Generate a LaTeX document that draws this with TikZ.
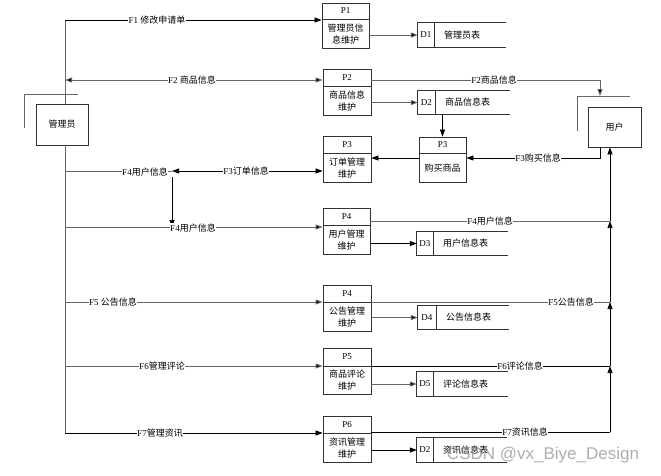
\documentclass[tikz,border=0pt]{standalone}
\usepackage{fontspec}
\setmainfont{Liberation Serif}
\newfontfamily\cjk{Noto Sans CJK SC}
\newfontfamily\wmfont{Liberation Sans}
\usetikzlibrary{arrows.meta,fit,calc}
\newcommand{\zh}[1]{{\cjk #1}}
\tikzset{
 ln/.style={draw=black, line width=0.7pt},
 gl/.style={draw=black!60, line width=0.9pt},
 arr/.style={-{Triangle[length=7pt,width=5pt,fill=black]}},
 arrb/.style={{Triangle[length=7pt,width=5pt,fill=black]}-{Triangle[length=7pt,width=5pt,fill=black]}},
 lbl/.style={fill=white, inner sep=0.6pt, font=\fontsize{9}{11}\selectfont},
 box/.style={draw=black!80, line width=0.8pt, inner sep=0pt},
 txt/.style={font=\fontsize{9}{12}\selectfont, inner sep=0pt, align=center},
 ztxt/.style={font=\cjk\fontsize{9}{12}\selectfont, inner sep=0pt, align=center},
}
\newcommand{\procbox}[8]{%
 \node[box, fit={(#2,#3) (#4,#5)}] (#1) {};
 \draw[box] (#1.west |- 0,#6) -- (#1.east |- 0,#6);
 \node[txt] (#1t) at ($(#1.north)!0.5!(#1.north |- 0,#6)$) {#7};
 \node[ztxt] (#1b) at ($(#1.south)!0.5!(#1.south |- 0,#6)$) {#8};
}
\newcommand{\storebox}[8]{%
 \node[inner sep=0pt, fit={(#2,#3) (#4,#5)}] (#1) {};
 \draw[box] (#1.north east) -- (#1.north west) -- (#1.south west) -- (#1.south east);
 \draw[box] (#1.north -| #6,0) -- (#1.south -| #6,0);
 \node[txt] (#1i) at ($(#1.west)!0.5!(#1.west -| #6,0)$) {#7};
 \node[ztxt, anchor=west] (#1n) at ($(#1.west -| #6,0)+(10,0)$) {#8};
}
\begin{document}
\begin{tikzpicture}[x=1pt,y=-1pt]
\useasboundingbox[fill=white] (0,0) rectangle (661,475);

% entities
\node[box, minimum width=52pt, minimum height=41pt, font=\cjk\fontsize{9}{11}\selectfont] (admin) at (62,124.5) {管理员};
\draw[gl] (24,128) -- (24,94) -- (78,94);
\node[box, minimum width=53pt, minimum height=40pt, font=\cjk\fontsize{9}{11}\selectfont] (user) at (614.5,127) {用户};
\draw[gl] (577,131) -- (577,96) -- (630,96);

% processes
\procbox{p1}{322}{3}{369}{48}{19}{P1}{管理员信\\息维护}
\procbox{p2}{323}{69}{371}{115}{86}{P2}{商品信息\\维护}
\procbox{p3}{323}{136}{371}{182}{153}{P3}{订单管理\\维护}
\procbox{p3b}{419}{137}{466}{182}{153}{P3}{购买商品}
\procbox{p4}{323}{208}{370}{254}{225}{P4}{用户管理\\维护}
\procbox{p4b}{323}{285}{371}{331}{302}{P4}{公告管理\\维护}
\procbox{p5}{323}{348}{371}{394}{366}{P5}{商品评论\\维护}
\procbox{p6}{323}{416}{371}{462}{433}{P6}{资讯管理\\维护}

% stores
\storebox{d1}{418}{23}{506}{47}{434}{D1}{管理员表}
\storebox{d2}{418}{91}{510}{114}{435}{D2}{商品信息表}
\storebox{d3}{417}{232}{508}{255}{433}{D3}{用户信息表}
\storebox{d4}{418}{306}{509}{329}{436}{D4}{公告信息表}
\storebox{d5}{417}{372}{508}{396}{433}{D5}{评论信息表}
\storebox{d2b}{417}{438}{507}{462}{433}{D2}{资讯信息表}

% junction coordinates
\coordinate (a1) at (65,20);
\coordinate (a2) at (65,80);
\coordinate (a4) at (65,171);
\coordinate (a4b) at (65,227);
\coordinate (a5) at (65,302);
\coordinate (a6) at (65,366);
\coordinate (a7) at (65,433);
\coordinate (j) at (172,171);
\coordinate (jd) at (172,177);
\coordinate (c2) at (600,80);
\coordinate (c3) at (600,158);
\coordinate (u4) at (610,221);
\coordinate (u5) at (610,302);
\coordinate (u6) at (610,366);
\coordinate (u7) at (610,432);
\coordinate (uf) at (600,96);

% admin trunk
\draw[gl] (a1) -- (admin.north -| a1);
\draw[gl] (admin.south -| a1) -- (a7);

% flows from admin
\draw[ln,arr] (a1) -- (p1.west |- a1);
\draw[gl,arrb] (a2) -- (p2.west |- a2);
\draw[gl] (a4) -- (j);
\draw[ln,arrb] (j) -- (p3.west |- j);
\draw[ln,arr] (jd) -- (jd |- a4b);
\draw[gl,arr] (a4b) -- (p4.west |- a4b);
\draw[gl,arr] (a5) -- (p4b.west |- a5);
\draw[gl,arr] (a6) -- (p5.west |- a6);
\draw[ln,arr] (a7) -- (p6.west |- a7);

% to stores
\draw[gl,arr] (p1.east |- d1.west) -- (d1.west);
\draw[gl,arr] (p2.east |- d2.west) -- (d2.west);
\draw[ln,arr] (p4.east |- d3.west) -- (d3.west);
\draw[gl,arr] (p4b.east |- d4.west) -- (d4.west);
\draw[gl,arr] (p5.east |- d5.west) -- (d5.west);
\draw[ln,arr] (p6.east |- d2b.west) -- (d2b.west);
\draw[ln,arr] (d2.south -| p3b.north) -- (p3b.north);

% user side
\draw[gl,arr] (p2.east |- c2) -- (c2) -- (uf);
\draw[ln,arr] (user.south -| c3) -- (c3) -- (p3b.east |- c3);
\draw[ln,arr] (p3b.west |- c3) -- (p3.east |- c3);
\draw[gl] (p4.east |- u4) -- (u4);
\draw[gl] (p4b.east |- u5) -- (u5);
\draw[ln] (p5.east |- u6) -- (u6);
\draw[ln] (p6.east |- u7) -- (u7);
\draw[ln,arr] (u7) -- (u6);
\draw[ln,arr] (u6) -- (u5);
\draw[ln,arr] (u5) -- (u4);
\draw[ln,arr] (u4) -- (user.south -| u4);

% labels
\node[lbl] (l1) at (157,20) {F1 \zh{修改申请单}};
\node[lbl] (l2) at (192,80) {F2 \zh{商品信息}};
\node[lbl] (l2b) at (494,80) {F2\zh{商品信息}};
\node[lbl] (l3) at (538,158) {F3\zh{购买信息}};
\node[lbl] (l3b) at (246,171) {F3\zh{订单信息}};
\node[lbl] (l4a) at (145,172) {F4\zh{用户信息}};
\node[lbl] (l4b) at (193,228) {F4\zh{用户信息}};
\node[lbl] (l4c) at (490,221) {F4\zh{用户信息}};
\node[lbl] (l5a) at (113,302) {F5 \zh{公告信息}};
\node[lbl] (l5b) at (571,302) {F5\zh{公告信息}};
\node[lbl] (l6a) at (162,366) {F6\zh{管理评论}};
\node[lbl] (l6b) at (520,366) {F6\zh{评论信息}};
\node[lbl] (l7a) at (160,433) {F7\zh{管理资讯}};
\node[lbl] (l7b) at (525,432) {F7\zh{资讯信息}};

% watermark
\node[font=\wmfont\fontsize{17}{17}\selectfont, text=black!45, opacity=0.7, inner sep=0pt] (wm) at (543,455) {CSDN @vx\_Biye\_Design};
\end{tikzpicture}
\end{document}
